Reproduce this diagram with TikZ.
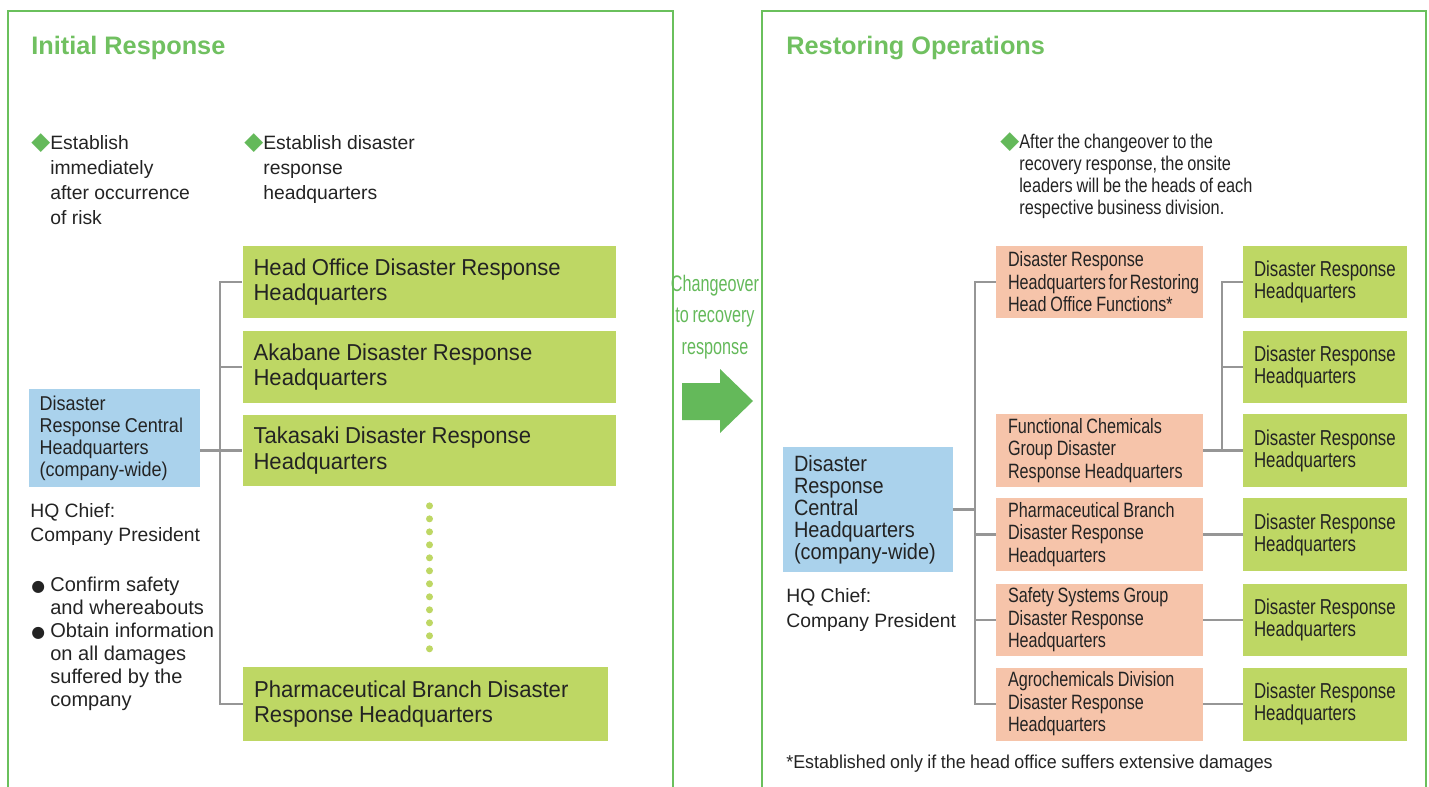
\documentclass[tikz,border=0pt]{standalone}
\usepackage{fontspec}
\setmainfont{Liberation Sans}
\newfontfamily\semifont[FakeStretch=0.96, WordSpace=0.9]{Liberation Sans}
\newfontfamily\condfont[FakeStretch=0.9, WordSpace=0.85]{Liberation Sans}
\newfontfamily\midfont[FakeStretch=0.82, WordSpace=0.85]{Liberation Sans}
\newfontfamily\narrowfont[FakeStretch=0.78, WordSpace=0.85]{Liberation Sans}
\newfontfamily\tightfont[FakeStretch=0.72, WordSpace=0.8]{Liberation Sans}
\newfontfamily\symfont{DejaVu Sans}
\usetikzlibrary{positioning,calc}
\hyphenpenalty=10000
\exhyphenpenalty=10000

\newcommand{\dmd}{{\symfont\fontsize{14}{14}\selectfont\color{markgreen}◆}}
\newcommand{\blt}{{\symfont\fontsize{9}{9}\selectfont ●\hspace{3pt}}}

\begin{document}
\begin{tikzpicture}[x=0.02cm, y=-0.02cm, every node/.style={inner sep=0pt, text=txtgray},
    paneltitle/.style={font=\bfseries\fontsize{14.4}{16}\selectfont, text=titlegreen},
    note/.style={align=flush left, font=\fontsize{11}{14.2}\selectfont},
    lbox/.style={fill=boxgreen, text width=7.04cm, inner xsep=0.22cm, minimum height=1.44cm, align=flush left, font=\semifont\fontsize{13.1}{14.5}\selectfont},
    hqblue/.style={fill=hqblue, align=flush left, inner xsep=0.21cm},
    sbox/.style={fill=salmon, text width=3.66cm, inner xsep=0.24cm, minimum height=1.46cm, align=flush left, font=\narrowfont\fontsize{11.8}{12.8}\selectfont},
    gbox/.style={fill=boxgreen, text width=2.84cm, inner xsep=0.22cm, minimum height=1.46cm, align=flush left, font=\narrowfont\fontsize{12.3}{12.5}\selectfont},
    tree/.style={draw=treegray, line width=1.3pt},
    frame/.style={draw=framegreen, line width=1.4pt}]
        \definecolor{framegreen}{RGB}{106,192,92}
        \definecolor{titlegreen}{RGB}{112,192,96}
        \definecolor{markgreen}{RGB}{100,185,90}
        \definecolor{boxgreen}{RGB}{190,215,100}
        \definecolor{hqblue}{RGB}{170,210,236}
        \definecolor{salmon}{RGB}{246,196,170}
        \definecolor{treegray}{RGB}{150,150,150}
        \definecolor{txtgray}{RGB}{35,35,35}

        \useasboundingbox (0,0) rectangle (1429,787);

        % Two panels, open at the bottom
        \draw[frame] (8,800) |- (673,11) -- (673,800);
        \draw[frame] (762,800) |- (1426,11) -- (1426,800);

        % Initial response
        \node[paneltitle, anchor=base west] (titleL) at (31,55) {Initial Response};
        \node[note, anchor=north west] (estA) at (50,133) {\llap{\dmd}Establish\\immediately\\after occurrence\\of risk};
        \node[note, anchor=north west] (estB) at (263,133) {\llap{\dmd}Establish disaster\\response\\headquarters};

        \node[hqblue, text width=3.0cm, minimum height=1.96cm, font=\condfont\fontsize{11.4}{12.5}\selectfont] (centralL) at (114.5,438) {Disaster\\Response~Central\\Headquarters\\(company-wide)};
        \node[note, anchor=north west, font=\fontsize{11}{13.6}\selectfont] (chiefL) at (30,503) {HQ Chief:\\Company President};
        \node[note, anchor=north west, font=\fontsize{11.4}{13}\selectfont] (tasks) at (50,577) {\llap{\blt}Confirm safety\\and whereabouts\\\llap{\blt}Obtain information\\on all damages\\suffered by the\\company};

        \node[lbox] (hoff) at (429.5,282) {Head Office Disaster Response\\Headquarters};
        \node[lbox] (aka) at (429.5,367) {Akabane Disaster Response\\Headquarters};
        \node[lbox] (tak) at (429.5,450.5) {Takasaki Disaster Response\\Headquarters};
        \node[lbox, text width=6.86cm, minimum height=1.48cm] (pharmL) at (425.5,704) {Pharmaceutical Branch Disaster\\Response Headquarters};

        \draw[tree] (hoff.west) -- ++(-22,0) |- (pharmL.west);
        \draw[tree] (aka.west) -- ++(-22,0);
        \draw[tree] (centralL.east |- tak.west) -- (tak.west);
        \draw[boxgreen, line width=0.14cm, line cap=round, dash pattern=on 0pt off 0.26cm, shorten <=0.38cm, shorten >=0.22cm] (tak.south) -- (tak.south |- pharmL.north);

        % Changeover
        \node[font=\tightfont\fontsize{12.8}{18}\selectfont, text=markgreen, align=flush center] (change) at (715,317) {Changeover\\to recovery\\response};
        \fill[markgreen] (682,383) -- (720,383) -- (720,369) -- (753,401) -- (720,433) -- (720,420) -- (682,420) -- cycle;

        % Restoring operations
        \node[paneltitle, anchor=base west] (titleR) at (786,55) {Restoring Operations};
        \node[note, anchor=north west, font=\midfont\fontsize{11.3}{12.5}\selectfont] (after) at (1019,132) {\llap{\dmd}After the changeover to the\\recovery response, the onsite\\leaders will be the heads of each\\respective business division.};

        \node[hqblue, text width=2.96cm, inner xsep=0.22cm, minimum height=2.5cm, font=\condfont\fontsize{12.6}{12.5}\selectfont] (centralR) at (868,509.5) {Disaster\\Response\\Central\\Headquarters\\(company-wide)};
        \node[note, anchor=north west, font=\fontsize{11}{14.2}\selectfont] (chiefR) at (786,588) {HQ Chief:\\Company President};

        \node[sbox] (sHO) at (1099.5,282) {Disaster Response\\Headquarters~for~Restoring\\Head Office Functions*};
        \node[sbox] (sFC) at (1099.5,450.5) {Functional Chemicals\\Group Disaster\\Response~Headquarters};
        \node[sbox] (sPB) at (1099.5,534.5) {Pharmaceutical Branch\\Disaster Response\\Headquarters};
        \node[sbox] (sSS) at (1099.5,620) {Safety Systems Group\\Disaster Response\\Headquarters};
        \node[sbox] (sAC) at (1099.5,704) {Agrochemicals Division\\Disaster Response\\Headquarters};

        \node[gbox] (drA) at (1325,282) {Disaster~Response\\Headquarters};
        \node[gbox] (drB) at (1325,367) {Disaster~Response\\Headquarters};
        \node[gbox] (drC) at (1325,450.5) {Disaster~Response\\Headquarters};
        \node[gbox] (drD) at (1325,534.5) {Disaster~Response\\Headquarters};
        \node[gbox] (drE) at (1325,620) {Disaster~Response\\Headquarters};
        \node[gbox] (drF) at (1325,704) {Disaster~Response\\Headquarters};

        \coordinate (spineR) at ($(sHO.west)+(-21,0)$);
        \draw[tree] (sHO.west) -- (spineR) |- (sAC.west);
        \draw[tree] (sPB.west) -- (sPB.west -| spineR);
        \draw[tree] (sSS.west) -- (sSS.west -| spineR);
        \draw[tree] (centralR.east) -- (centralR.east -| spineR);
        \draw[tree] (drA.west) -- ++(-21,0) |- (drC.west);
        \draw[tree] (drB.west) -- ++(-21,0);
        \draw[tree] (sFC.east) -- (drC.west);
        \draw[tree] (sPB.east) -- (drD.west);
        \draw[tree] (sSS.east) -- (drE.west);
        \draw[tree] (sAC.east) -- (drF.west);

        \node[anchor=base west, font=\semifont\fontsize{10.6}{12}\selectfont] (foot) at (786,768) {*Established only if the head office suffers extensive damages};
    \end{tikzpicture}
\end{document}
